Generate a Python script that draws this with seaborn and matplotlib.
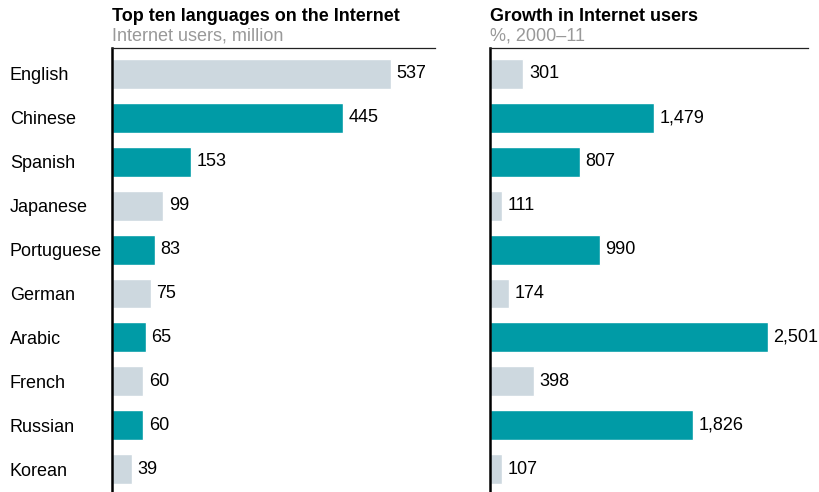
import matplotlib
matplotlib.use("Agg")
import matplotlib.pyplot as plt
import seaborn as sns

# data
languages = ["English", "Chinese", "Spanish", "Japanese", "Portuguese",
             "German", "Arabic", "French", "Russian", "Korean"]
users_million = [537, 445, 153, 99, 83, 75, 65, 60, 60, 39]
growth_pct = [301, 1479, 807, 111, 990, 174, 2501, 398, 1826, 107]
highlight = ["Chinese", "Spanish", "Portuguese", "Arabic", "Russian"]

TEAL = "#009ba6"
GREY = "#cdd8df"
palette = {l: (TEAL if l in highlight else GREY) for l in languages}

sns.set_style("white")
plt.rcParams['font.family'] = ['Liberation Sans', 'DejaVu Sans']
plt.rcParams['text.color'] = 'black'
plt.rcParams['ytick.color'] = 'black'

fig = plt.figure(figsize=(8.19, 4.92), dpi=100)
W, H = 819, 492
ax1 = fig.add_axes([112 / W, 0, (435 - 112) / W, (492 - 48) / H])
ax2 = fig.add_axes([490 / W, 0, (808 - 490) / W, (492 - 48) / H])

panels = [
    (ax1, users_million, 622, "Top ten languages on the Internet", "Internet users, million"),
    (ax2, growth_pct, 2865, "Growth in Internet users", "%, 2000\u201311"),
]

FS = 13
for ax, vals, xmax, title, sub in panels:
    sns.barplot(x=vals, y=languages, hue=languages, palette=palette,
                legend=False, orient="h", width=0.68, ax=ax, saturation=1)
    ax.set_xlim(0, xmax)
    ax.set_ylim(9.52, -0.59)
    ax.set_xticks([])
    ax.set_xlabel("")
    ax.set_ylabel("")
    for s in ["right", "bottom"]:
        ax.spines[s].set_visible(False)
    ax.spines["left"].set_color("black")
    ax.spines["left"].set_linewidth(1.8)
    ax.spines["top"].set_color("#222222")
    ax.spines["top"].set_linewidth(0.9)
    for c in ax.containers:
        ax.bar_label(c, fmt="{:,.0f}", padding=4, fontsize=FS, color="black")
    ax.text(0, 1.061, title, transform=ax.transAxes, fontsize=FS,
            fontweight="bold", ha="left", va="baseline")
    ax.text(0, 1.016, sub, transform=ax.transAxes, fontsize=FS,
            color="#999999", ha="left", va="baseline")

ax1.tick_params(axis="y", length=0, pad=73.5, labelsize=FS)
for t in ax1.get_yticklabels():
    t.set_ha("left")
ax2.set_yticks([])

fig.savefig("out.png", dpi=100)
